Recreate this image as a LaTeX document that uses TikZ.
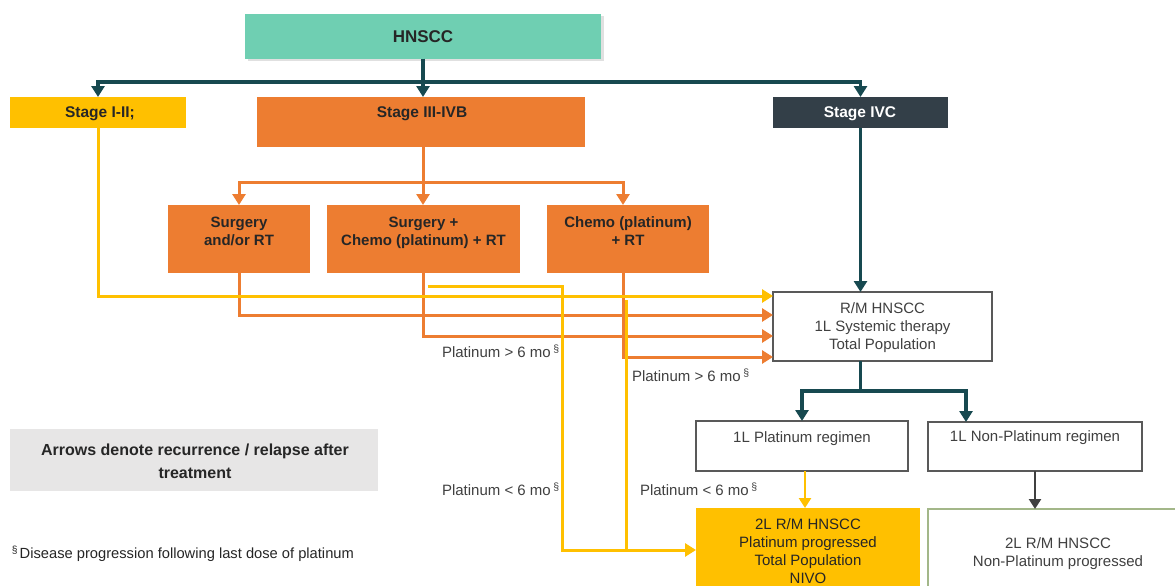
\documentclass[tikz,border=0pt]{standalone}
\usepackage{fontspec}
\setmainfont{Liberation Sans}
\usetikzlibrary{arrows.meta,calc,shadows}
\definecolor{cTeal}{RGB}{111,207,178}
\definecolor{cDk}{RGB}{23,73,80}
\definecolor{cYel}{RGB}{255,192,0}
\definecolor{cOr}{RGB}{237,125,49}
\definecolor{cIVC}{RGB}{51,63,72}
\definecolor{cTxt}{RGB}{38,38,38}
\definecolor{cGrayTxt}{RGB}{64,64,64}
\definecolor{cBorder}{RGB}{89,89,89}
\definecolor{cGreen}{RGB}{163,183,137}
\definecolor{cLeg}{RGB}{231,230,230}
\newcommand\fsReg{\fontsize{15}{18}\selectfont}
\newcommand\fsBold{\fontsize{15}{18}\selectfont\bfseries}
\newcommand\fsStage{\fontsize{15.5}{18.6}\selectfont\bfseries}
\newcommand\fsHN{\fontsize{17}{20}\selectfont\bfseries}
\newcommand\fsLeg{\fontsize{16}{22.5}\selectfont\bfseries}
\newcommand\fsFoot{\fontsize{14.7}{17.6}\selectfont}
\begin{document}
\begin{tikzpicture}[x=1pt,y=-1pt,
  box/.style={rectangle, inner sep=0pt, outer sep=0pt, anchor=north west},
  wbox/.style={box, draw=cBorder, line width=1.2pt, fill=white},
  txt/.style={inner sep=0pt, outer sep=0pt, anchor=north, align=center, text=cTxt, font=\fsBold},
  gtxt/.style={txt, text=cGrayTxt, font=\fsReg},
  lab/.style={inner sep=0pt, outer sep=0pt, anchor=base west, text=cGrayTxt, font=\fsReg},
  dk/.style={draw=cDk, line width=3.2pt, -{Triangle[width=13pt,length=11pt]}},
  org/.style={draw=cOr, line width=3pt, -{Triangle[width=13pt,length=11pt]}},
  yel/.style={draw=cYel, line width=3pt, -{Triangle[width=13pt,length=11pt]}},
  yelplain/.style={draw=cYel, line width=3pt},
  yelthin/.style={draw=cYel, line width=2.8pt, -{Triangle[width=12pt,length=10pt]}},
  grayarr/.style={draw=cGrayTxt, line width=2.8pt, -{Triangle[width=12pt,length=10pt]}}
]
\clip (0,0) rectangle (1175,586);
\fill[white] (0,0) rectangle (1175,586);

% boxes
\node[box, fill=cTeal, minimum width=356pt, minimum height=45pt,
      drop shadow={shadow xshift=2.5pt, shadow yshift=-2.5pt, fill=black, opacity=0.12}] (hnscc) at (245,14) {};
\node[box, fill=cYel, minimum width=176pt, minimum height=31pt] (s12) at (10,97) {};
\node[box, fill=cOr, minimum width=328pt, minimum height=50pt] (s34) at (257,97) {};
\node[box, fill=cIVC, minimum width=175pt, minimum height=31pt] (s4c) at (773,97) {};
\node[box, fill=cOr, minimum width=142pt, minimum height=68pt] (surg) at (168,205) {};
\node[box, fill=cOr, minimum width=193pt, minimum height=68pt] (sc) at (327,205) {};
\node[box, fill=cOr, minimum width=162pt, minimum height=68pt] (chemo) at (547,205) {};
\node[wbox, minimum width=219pt, minimum height=69pt] (rm) at (773,292) {};
\node[wbox, minimum width=212pt, minimum height=50pt] (p1) at (696,421) {};
\node[wbox, minimum width=214pt, minimum height=49pt] (np1) at (928,422) {};
\node[box, fill=cYel, minimum width=224pt, minimum height=95pt] (p2) at (696,508) {};
\node[box, draw=cGreen, line width=1.5pt, fill=white, minimum width=262pt, minimum height=95pt] (np2) at (928,509) {};
\node[box, fill=cLeg, minimum width=368pt, minimum height=62pt] (leg) at (10,429) {};

% texts
\node[txt, anchor=center, font=\fsHN] (hnscc-t) at (423,37) {HNSCC};
\node[txt, font=\fsStage] (s12-t) at (100,104.5) {\strut Stage I-II;};
\node[txt, font=\fsStage] (s34-t) at (422,104.5) {\strut Stage III-IVB};
\node[txt, font=\fsStage, text=white] (s4c-t) at (860,104.5) {\strut Stage IVC};
\node[txt] (surg-t) at (239,214.8) {\strut Surgery\\and/or RT};
\node[txt] (sc-t) at (423.5,214.8) {\strut Surgery +\\Chemo (platinum) + RT};
\node[txt] (chemo-t) at (628,214.8) {\strut Chemo (platinum)\\+ RT};
\node[gtxt] (rm-t) at (882.5,300.8) {\strut R/M HNSCC\\1L Systemic therapy\\Total Population};
\node[gtxt] (p1-t) at (802,429.8) {\strut 1L Platinum regimen};
\node[gtxt] (np1-t) at (1035,428.8) {\strut 1L Non-Platinum regimen};
\node[gtxt, text=cTxt] (p2-t) at (808,516.8) {\strut 2L R/M HNSCC\\Platinum progressed\\Total Population\\NIVO};
\node[gtxt] (np2-t) at (1058,535.8) {\strut 2L R/M HNSCC\\Non-Platinum progressed};
\node[txt, font=\fsLeg] (leg-t) at (195,440) {\strut Arrows denote recurrence / relapse after\\treatment};
\node[lab, text=cTxt, font=\fsFoot] (fn) at (12,558.4) {\textsuperscript{§}\hspace{1.5pt}Disease progression following last dose of platinum};
\node[lab] (l1) at (442,357.4) {Platinum > 6 mo\,\textsuperscript{§}};
\node[lab] (l2) at (632,381.4) {Platinum > 6 mo\,\textsuperscript{§}};
\node[lab] (l3) at (442,495.4) {Platinum < 6 mo\,\textsuperscript{§}};
\node[lab] (l4) at (640,495.4) {Platinum < 6 mo\,\textsuperscript{§}};

% top tree
\draw[dk] (hnscc.south) -- (hnscc.south |- s34.north);
\draw[dk] (hnscc.south) -- ++(0,23) -| (s12.north);
\draw[dk] (hnscc.south) -- ++(0,23) -| (s4c.north);

% stage III-IVB tree
\coordinate (s34b) at (s34.south -| hnscc.south);
\coordinate (chemoIn) at ($(chemo.north)+(-5,0)$);
\draw[org] (s34b) -- ++(0,35) -| (surg.north);
\draw[org] (s34b) -- (s34b |- sc.north);
\draw[org] (s34b) -- ++(0,35) -| (chemoIn);

% recurrence arrows to R/M
\coordinate (rmA) at ($(rm.north west)+(0,4)$);
\coordinate (rmB) at ($(rm.north west)+(0,23)$);
\coordinate (rmC) at ($(rm.north west)+(0,44)$);
\coordinate (rmD) at ($(rm.north west)+(0,65)$);
\coordinate (chemoOut) at ($(chemo.south)+(-5,0)$);
\draw[org] (surg.south) |- (rmB);
\draw[org] (sc.south) |- (rmC);
\draw[org] (chemoOut) |- (rmD);
\draw[yel] (s12.south) |- (rmA);

% platinum < 6 mo arrows to 2L
\coordinate (ys1) at ($(sc.south)+(4,13)$);
\coordinate (ys2) at ($(chemo.south)+(-2,27)$);
\coordinate (ymerge) at ($(p2.north west)+(0,42)$);
\draw[yelplain] (ys2) -- (ys2 |- ymerge);
\draw[yel] (ys1) -- ++(135,0) |- (ymerge);

% stage IVC and R/M tree
\draw[dk] (s4c.south) -- (s4c.south |- rm.north);
\coordinate (rmb) at (s4c.south |- rm.south);
\coordinate (np1In) at ($(np1.north west)+(38,0)$);
\draw[dk] (rmb) -- ++(0,30) -| (p1.north);
\draw[dk] (rmb) -- ++(0,30) -| (np1In);

\coordinate (p1s) at ($(p1.south)+(3,0)$);
\draw[yelthin] (p1s) -- (p1s |- p2.north);
\draw[grayarr] (np1.south) -- (np1.south |- np2.north);
\end{tikzpicture}
\end{document}
